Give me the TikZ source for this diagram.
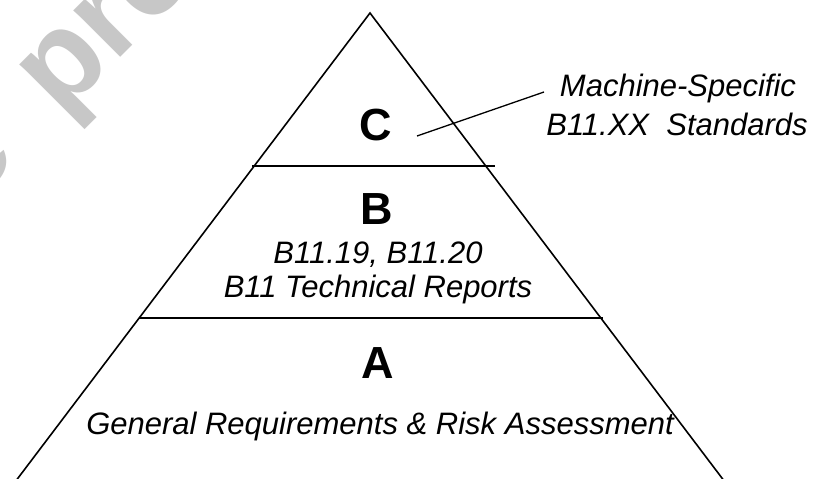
\documentclass[tikz,border=0pt]{standalone}
\usepackage{fontspec}
\usepackage{xcolor}
\newfontfamily\arialfont{Liberation Sans}

\begin{document}
\begin{tikzpicture}[x=1pt,y=1pt]
        \tikzset{level/.style={inner sep=0pt,font=\arialfont\bfseries\fontsize{45}{50}\selectfont},
            note/.style={inner sep=0pt,align=center,font=\arialfont\itshape\fontsize{31}{39}\selectfont},
            stamp/.style={inner sep=0pt,rotate=45,text=black!22,
                font=\arialfont\bfseries\fontsize{125}{125}\selectfont},
            edge/.style={line width=1.6pt,line cap=round},
            mark line/.style={line width=1.3pt}}
        \useasboundingbox (0,0) rectangle (819,-479);
        \clip (0,0) rectangle (819,-479);
        % watermark
        \node[stamp,anchor=base west] (wm) at (60,-118) {preview};
        \node[stamp,anchor=base east] (wmf) at (20,-158) {Free};
        % pyramid
        \coordinate (top) at (370,-13);
        \coordinate (bl) at (9,-490);
        \coordinate (br) at (731,-490);
        \draw[edge] (bl) -- (top) -- (br);
        \coordinate (cbl) at (252,-166);
        \coordinate (cbr) at (495,-166);
        \coordinate (abl) at (139,-318);
        \coordinate (abr) at (603,-318);
        \draw[mark line] (cbl) -- (cbr);
        \draw[mark line] (abl) -- (abr);
        % levels
        \node[level,anchor=base] (c) at (376,-140) {C};
        \node[level,anchor=base] (b) at (377,-224) {B};
        \node[note,anchor=base] (bstd) at (378,-263) {B11.19, B11.20};
        \node[note,anchor=base] (brep) at (378,-297) {B11 Technical Reports};
        \node[level,anchor=base] (a) at (378,-378) {A};
        \node[note,anchor=base] (gen) at (380,-434) {General Requirements \& Risk Assessment};
        % label for C
        \node[note,anchor=base] (spec) at (678,-96) {Machine-Specific};
        \node[note,anchor=base] (specx) at (677,-135) {B11.XX\ \ Standards};
        \coordinate (cin) at (417,-136);
        \coordinate (cout) at (544,-92);
        \draw[mark line] (cin) -- (cout);
\end{tikzpicture}
\end{document}
